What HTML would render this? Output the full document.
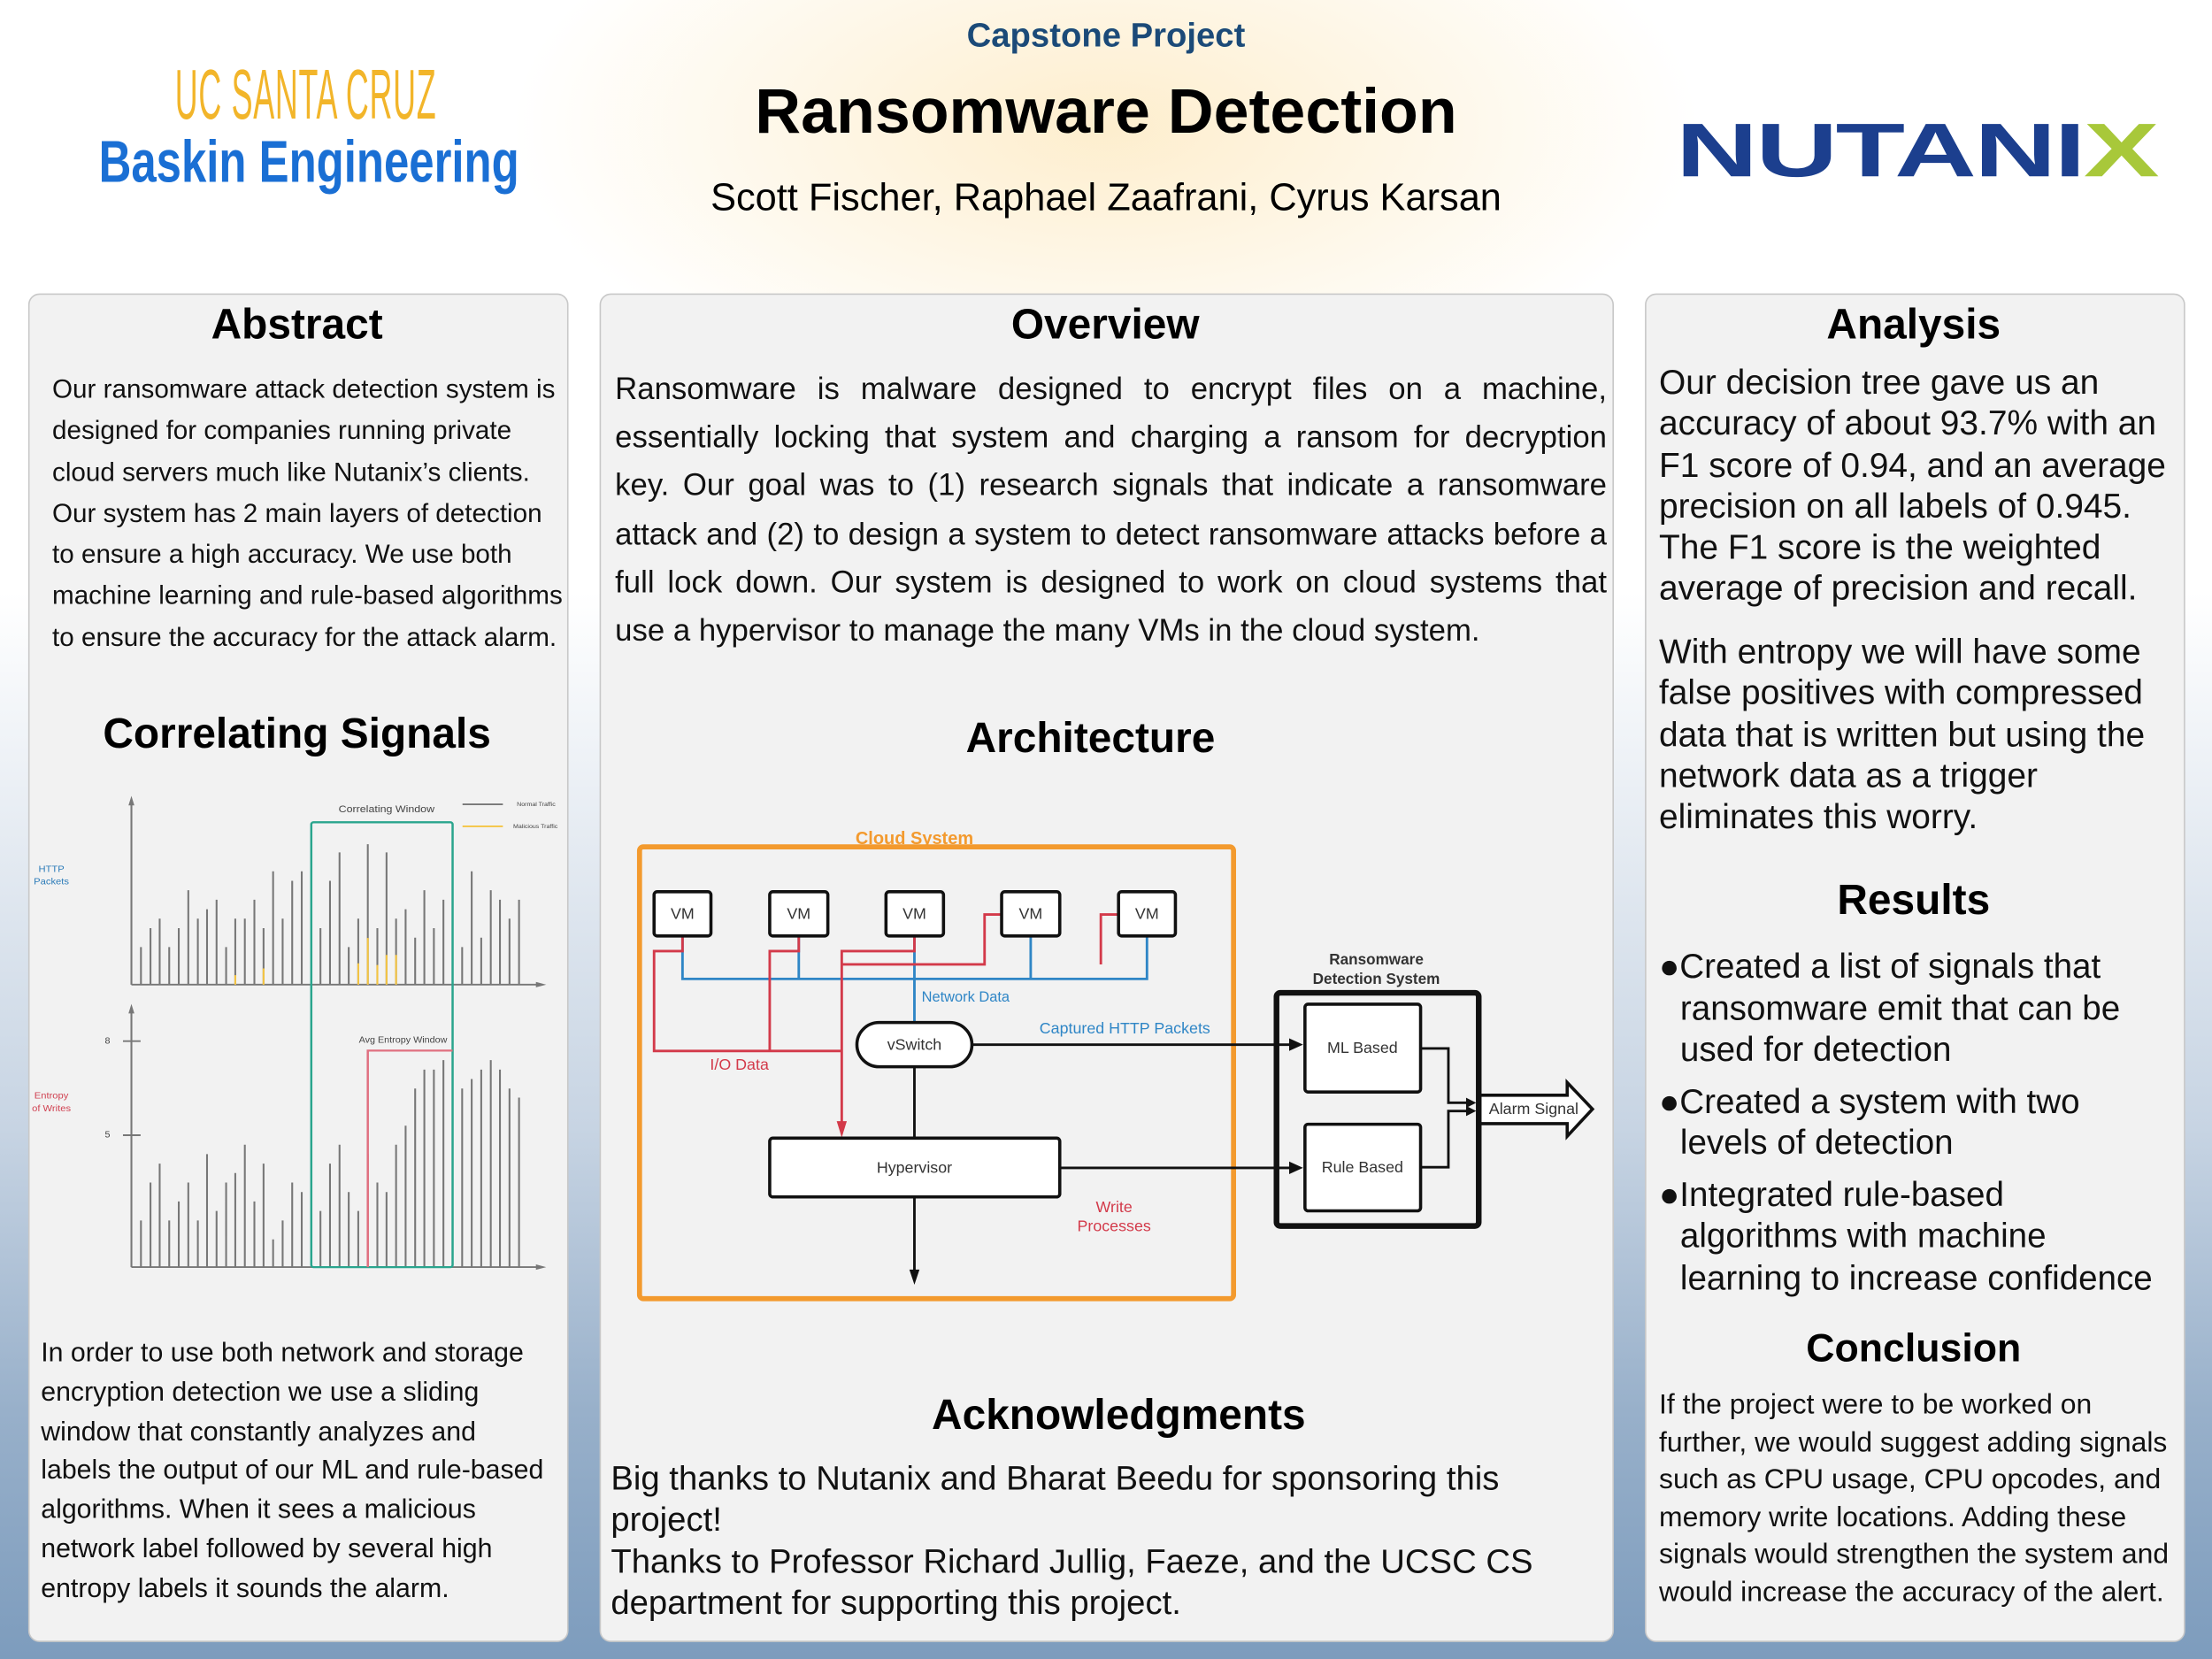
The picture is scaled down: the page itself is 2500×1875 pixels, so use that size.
<!DOCTYPE html>
<html><head><meta charset="utf-8">
<style>
html,body{margin:0;padding:0;width:2500px;height:1875px;overflow:hidden;}
#w{position:absolute;left:0;top:0;width:1568px;height:1176px;transform:scale(1.59439);transform-origin:0 0;
font-family:"Liberation Sans",sans-serif;
background:
radial-gradient(ellipse 420px 200px at 784px 90px, rgba(253,236,200,0.9), rgba(255,250,240,0) 100%),
linear-gradient(to bottom,#ffffff 0px,#ffffff 420px,#c7d4e3 800px,#98b0ca 1000px,#7d9cbd 1176px);}
.a{position:absolute;}
.panel{position:absolute;background:#f2f2f2;border:1px solid #c8c8c8;border-radius:8px;}
.t{position:absolute;font-weight:bold;font-size:30px;color:#000;text-align:center;white-space:nowrap;}
.p{position:absolute;color:#111;}
</style></head><body><div id="w">

<div class="a" style="left:0;width:1568px;top:12px;text-align:center;font-weight:bold;font-size:24px;color:#1b4a78;">Capstone Project</div>
<div class="a" style="left:0;width:1568px;top:53px;text-align:center;font-weight:bold;font-size:45px;color:#000;">Ransomware Detection</div>
<div class="a" style="left:0;width:1568px;top:124px;text-align:center;font-size:27.2px;color:#000;">Scott Fischer, Raphael Zaafrani, Cyrus Karsan</div>

<div class="a" style="left:124px;top:38px;font-size:50px;color:#f2b52a;transform:scaleX(0.45);transform-origin:0 0;white-space:nowrap;letter-spacing:1px;">UC SANTA CRUZ</div>
<div class="a" style="left:70px;top:91px;font-size:42px;font-weight:bold;color:#1a6fd4;transform:scaleX(0.76);transform-origin:0 0;white-space:nowrap;">Baskin Engineering</div>
<div class="a" style="left:1188px;top:76px;font-size:54px;font-weight:bold;color:#1c3f8e;transform:scaleX(1.49);transform-origin:0 0;white-space:nowrap;letter-spacing:-1px;">NUTANI<span style="color:#a8c83a">X</span></div>

<!-- left panel -->
<div class="panel" style="left:20px;top:208px;width:381px;height:954px;"></div>
<div class="t" style="left:20px;width:381px;top:214px;">Abstract</div>
<div class="p" style="left:37px;top:261px;width:366px;font-size:18.6px;line-height:29.3px;">Our ransomware attack detection system is designed for companies running private cloud servers much like Nutanix’s clients. Our system has 2 main layers of detection to ensure a high accuracy. We use both machine learning and rule-based algorithms to ensure the accuracy for the attack alarm.</div>
<div class="t" style="left:20px;width:381px;top:504px;">Correlating Signals</div>

<svg class="a" style="left:0;top:533px;width:408px;height:376px;" viewBox="0 0 1568 1568" preserveAspectRatio="none">
<g stroke="#777" stroke-width="5" fill="none">
<path d="M358 688H1470M358 1523H1470M358 688V145M358 1523V760M335 855H383M335 1133H383"/>
<path d="M384 688V577M410 688V521M435 688V493M461 688V577M487 688V521M513 688V409M539 688V493M564 688V465M590 688V437M616 688V577M641 688V493M667 688V493M693 688V437M718 688V521M744 688V353M770 688V493M796 688V381M822 688V353M873 688V521M899 688V381M925 688V297M950 688V577M976 688V493M1002 688V273M1028 688V521M1053 688V297M1079 688V493M1105 688V465M1131 688V549M1156 688V409M1182 688V521M1208 688V437M1259 688V577M1285 688V353M1311 688V549M1337 688V409M1362 688V437M1388 688V493M1414 688V437"/>
<path d="M384 1523V1385M410 1523V1273M435 1523V1217M461 1523V1385M487 1523V1329M513 1523V1273M539 1523V1385M564 1523V1189M590 1523V1357M616 1523V1273M641 1523V1245M667 1523V1161M693 1523V1329M718 1523V1217M744 1523V1441M770 1523V1385M796 1523V1273M822 1523V1301M873 1523V1357M899 1523V1217M925 1523V1161M950 1523V1301M976 1523V1357M1028 1523V1273M1053 1523V1301M1079 1523V1161M1105 1523V1105M1131 1523V995M1156 1523V939M1182 1523V939M1208 1523V911M1259 1523V995M1285 1523V967M1311 1523V939M1337 1523V911M1362 1523V939M1388 1523V995M1414 1523V1022"/>
<path d="M1260 155H1370" />
</g>
<path d="M1002 1523V1189" stroke="#b05050" stroke-width="5"/>
<g stroke="#f5c542" stroke-width="5"><path d="M641 688V660M718 688V640M976 688V625M1002 688V550M1028 688V630M1053 688V600M1079 688V600M1260 220H1370"/></g>
<path d="M358 130l-8 28h16zM1488 688l-28-8v16zM358 745l-8 28h16zM1488 1523l-28-8v16z" fill="#777"/>
<rect x="848" y="208" width="385" height="1315" rx="6" fill="none" stroke="#2aa58e" stroke-width="6"/>
<path d="M1002 1523V883H1233" fill="none" stroke="#e07080" stroke-width="6"/>
<g font-family="Liberation Sans,sans-serif" fill="#444">
<text x="1053" y="178" font-size="30" text-anchor="middle">Correlating Window</text>
<text x="1098" y="860" font-size="26" text-anchor="middle">Avg Entropy Window</text>
<text x="1408" y="160" font-size="17">Normal Traffic</text>
<text x="1398" y="225" font-size="17">Malicious Traffic</text>
<text x="293" y="862" font-size="26" text-anchor="middle">8</text>
<text x="293" y="1140" font-size="26" text-anchor="middle">5</text>
<text x="140" y="355" font-size="27" text-anchor="middle" fill="#2b7bb8">HTTP</text>
<text x="140" y="392" font-size="27" text-anchor="middle" fill="#2b7bb8">Packets</text>
<text x="140" y="1025" font-size="27" text-anchor="middle" fill="#d04050">Entropy</text>
<text x="140" y="1062" font-size="27" text-anchor="middle" fill="#d04050">of Writes</text>
</g>
</svg>

<div class="p" style="left:29px;top:946px;width:362px;font-size:19px;line-height:27.8px;">In order to use both network and storage encryption detection we use a sliding window that constantly analyzes and labels the output of our ML and rule-based algorithms. When it sees a malicious network label followed by several high entropy labels it sounds the alarm.</div>

<!-- middle panel -->
<div class="panel" style="left:425px;top:208px;width:717px;height:954px;"></div>
<div class="t" style="left:425px;width:717px;top:214px;">Overview</div>
<div class="p" style="left:436px;top:259px;width:703px;font-size:21.8px;line-height:34.2px;text-align:justify;">Ransomware is malware designed to encrypt files on a machine, essentially locking that system and charging a ransom for decryption key. Our goal was to (1) research signals that indicate a ransomware attack and (2) to design a system to detect ransomware attacks before a full lock down. Our system is designed to work on cloud systems that use a hypervisor to manage the many VMs in the cloud system.</div>
<div class="t" style="left:573px;width:400px;top:507px;">Architecture</div>

<svg class="a" style="left:439px;top:577px;width:702.4px;height:351.2px;" viewBox="0 0 1568 784">
<rect x="32" y="52" width="940" height="715" rx="6" fill="none" stroke="#f39a2e" stroke-width="8"/>
<text x="467" y="48" font-size="28" font-weight="bold" fill="#f39a2e" text-anchor="middle" font-family="Liberation Sans,sans-serif">Cloud System</text>
<g fill="none" stroke="#2f86c6" stroke-width="4">
<path d="M100 193V261H835V193M284 193V261M467 193V330M651 193V261"/>
</g>
<g fill="none" stroke="#d33a4a" stroke-width="4">
<path d="M100 193V217H55V375H352M284 193V217H238V375M467 193V217H352V505M605 159H578V238H352M790 159H762V238"/>
</g>
<path d="M352 512l-8-26h16z" fill="#d33a4a"/>
<g fill="#fff" stroke="#111" stroke-width="5">
<rect x="55" y="123" width="90" height="70" rx="5"/>
<rect x="238" y="123" width="92" height="70" rx="5"/>
<rect x="422" y="123" width="91" height="70" rx="5"/>
<rect x="605" y="123" width="92" height="70" rx="5"/>
<rect x="790" y="123" width="90" height="70" rx="5"/>
<rect x="376" y="330" width="182" height="70" rx="35"/>
<rect x="238" y="513" width="459" height="93" rx="5"/>
<rect x="1085" y="301" width="183" height="139" rx="5"/>
<rect x="1085" y="491" width="183" height="137" rx="5"/>
<path d="M1360 445H1500V425L1540 467L1500 510V490H1360z"/>
</g>
<rect x="1040" y="283" width="320" height="369" rx="6" fill="none" stroke="#111" stroke-width="9"/>
<g stroke="#111" stroke-width="4" fill="none">
<path d="M558 365H1070M467 400V513M697 560H1070M467 606V730M1268 371H1312V457H1345M1268 559H1312V470H1345"/>
</g>
<g fill="#111"><path d="M1082 365l-22-10v20zM1082 560l-22-10v20zM467 745l-8-24h16zM1356 457l-16-8v16zM1356 470l-16-8v16z"/></g>
<g font-family="Liberation Sans,sans-serif" font-size="25" fill="#333" text-anchor="middle">
<text x="100" y="166">VM</text><text x="284" y="166">VM</text><text x="467" y="166">VM</text><text x="651" y="166">VM</text><text x="835" y="166">VM</text>
<text x="467" y="373">vSwitch</text>
<text x="467" y="568">Hypervisor</text>
<text x="1176" y="378">ML Based</text>
<text x="1176" y="567">Rule Based</text>
<text x="1447" y="475">Alarm Signal</text>
<text x="548" y="297" fill="#2f86c6" font-size="23">Network Data</text>
<text x="800" y="347" fill="#2f86c6">Captured HTTP Packets</text>
<text x="190" y="405" fill="#d33a4a">I/O Data</text>
<text x="783" y="630" fill="#d33a4a">Write</text>
<text x="783" y="660" fill="#d33a4a">Processes</text>
<text x="1198" y="238" font-weight="bold" font-size="24">Ransomware</text>
<text x="1198" y="269" font-weight="bold" font-size="24">Detection System</text>
</g>
</svg>

<div class="t" style="left:593px;width:400px;top:987px;">Acknowledgments</div>
<div class="p" style="left:433px;top:1034px;width:705px;font-size:24px;line-height:29.4px;">Big thanks to Nutanix and Bharat Beedu for sponsoring this project!<br>Thanks to Professor Richard Jullig, Faeze, and the UCSC CS department for supporting this project.</div>

<!-- right panel -->
<div class="panel" style="left:1166px;top:208px;width:381px;height:954px;"></div>
<div class="t" style="left:1166px;width:381px;top:214px;">Analysis</div>
<div class="p" style="left:1176px;top:257px;width:368px;font-size:24.4px;line-height:29.3px;">Our decision tree gave us an accuracy of about 93.7% with an F1 score of 0.94, and an average precision on all labels of 0.945. The F1 score is the weighted average of precision and recall.</div>
<div class="p" style="left:1176px;top:448px;width:368px;font-size:24.4px;line-height:29.3px;">With entropy we will have some false positives with compressed data that is written but using the network data as a trigger eliminates this worry.</div>
<div class="t" style="left:1166px;width:381px;top:622px;">Results</div>
<div class="p" style="left:1176px;top:671px;width:362px;font-size:24.2px;line-height:29.5px;">
<div style="padding-left:15px;text-indent:-15px;margin-bottom:7px;">●Created a list of signals that ransomware emit that can be used for detection</div>
<div style="padding-left:15px;text-indent:-15px;margin-bottom:7px;">●Created a system with two levels of detection</div>
<div style="padding-left:15px;text-indent:-15px;">●Integrated rule-based algorithms with machine learning to increase confidence</div>
</div>
<div class="t" style="left:1166px;width:381px;top:940px;font-size:28px;">Conclusion</div>
<div class="p" style="left:1176px;top:983px;width:364px;font-size:20px;line-height:26.6px;">If the project were to be worked on further, we would suggest adding signals such as CPU usage, CPU opcodes, and memory write locations. Adding these signals would strengthen the system and would increase the accuracy of the alert.</div>

</div></body></html>
